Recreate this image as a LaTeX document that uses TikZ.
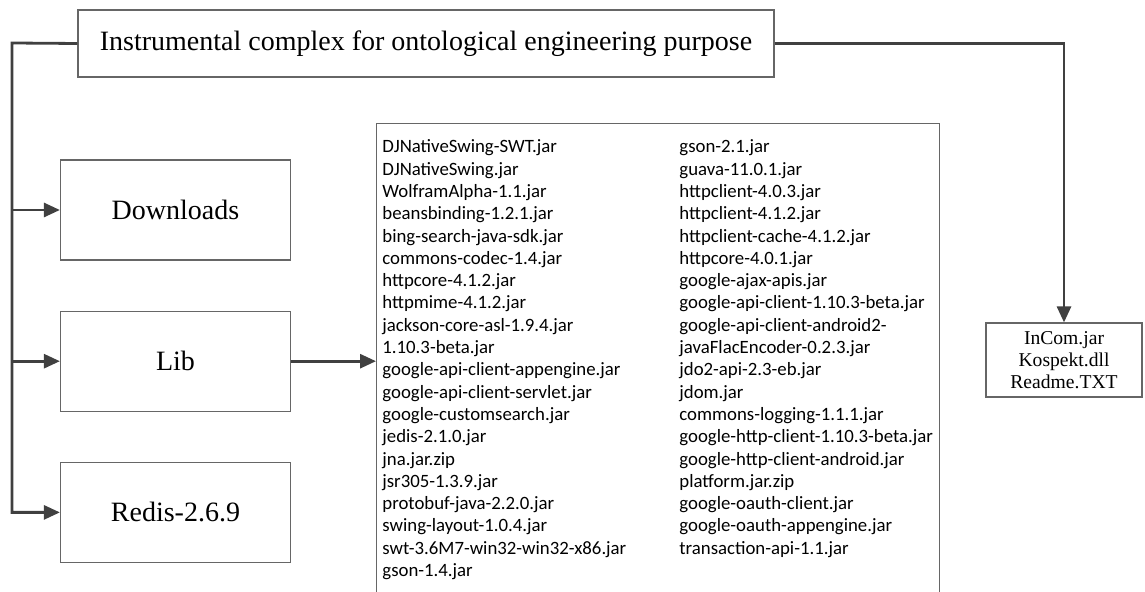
\documentclass[tikz,border=0pt]{standalone}
\usepackage{fontspec}
\setmainfont{Liberation Serif}
\newfontfamily\jarfont{Carlito}
\usetikzlibrary{positioning, arrows.meta}

\begin{document}
\begin{tikzpicture}[x=0.5pt, y=-0.5pt]
\tikzstyle{main}=[rectangle, draw=black!60, line width=0.6pt, inner sep=0pt, font=\fontsize{14}{16}\selectfont]
\tikzstyle{folder}=[main, minimum width=115pt, minimum height=50pt]
\tikzstyle{connect}=[draw=black!75, line width=1.4pt, -{Triangle[length=8pt, width=7pt]}]
\tikzstyle{jarlist}=[inner sep=0pt, align=left, font=\jarfont\fontsize{9.4}{11.15}\selectfont]
\useasboundingbox (0,0) rectangle (1145,592);
\clip (0,0) rectangle (1145,592);
\node[main, minimum width=348pt, minimum height=33.5pt] (title) at (426,43.5) {Instrumental complex for ontological engineering purpose};
\node[folder] (downloads) at (175.5,210) {Downloads};
\node[folder] (lib) [below=25pt of downloads] {Lib};
\node[folder] (redis) [below=25pt of lib] {Redis-2.6.9};
\node[main, anchor=north west, minimum width=281.5pt, minimum height=250pt] (jars) at (376,123) {};
\node[jarlist, anchor=north west] (jarsleft) at (382,139.5) {DJNativeSwing-SWT.jar\\DJNativeSwing.jar\\WolframAlpha-1.1.jar\\beansbinding-1.2.1.jar\\bing-search-java-sdk.jar\\commons-codec-1.4.jar\\httpcore-4.1.2.jar\\httpmime-4.1.2.jar\\jackson-core-asl-1.9.4.jar\\1.10.3-beta.jar\\google-api-client-appengine.jar\\google-api-client-servlet.jar\\google-customsearch.jar\\jedis-2.1.0.jar\\jna.jar.zip\\jsr305-1.3.9.jar\\protobuf-java-2.2.0.jar\\swing-layout-1.0.4.jar\\swt-3.6M7-win32-win32-x86.jar\\gson-1.4.jar};
\node[jarlist, anchor=north west] (jarsright) at (679,139.5) {gson-2.1.jar\\guava-11.0.1.jar\\httpclient-4.0.3.jar\\httpclient-4.1.2.jar\\httpclient-cache-4.1.2.jar\\httpcore-4.0.1.jar\\google-ajax-apis.jar\\google-api-client-1.10.3-beta.jar\\google-api-client-android2-\\javaFlacEncoder-0.2.3.jar\\jdo2-api-2.3-eb.jar\\jdom.jar\\commons-logging-1.1.1.jar\\google-http-client-1.10.3-beta.jar\\google-http-client-android.jar\\platform.jar.zip\\google-oauth-client.jar\\google-oauth-appengine.jar\\transaction-api-1.1.jar};
\node[main, minimum width=78pt, minimum height=37pt, align=center, font=\fontsize{9.8}{11}\selectfont] (files) at (1064,360) {InCom.jar\\Kospekt.dll\\Readme.TXT};
\coordinate (trunk) at (12,43);
\draw[connect] (title.west) -- (trunk) |- (redis.west);
\draw[connect] (trunk |- downloads.west) -- (downloads.west);
\draw[connect] (trunk |- lib.west) -- (lib.west);
\draw[connect] (lib.east) -- (lib.east -| jars.west);
\draw[connect] (title.east) -| (files.north);
\end{tikzpicture}
\end{document}
